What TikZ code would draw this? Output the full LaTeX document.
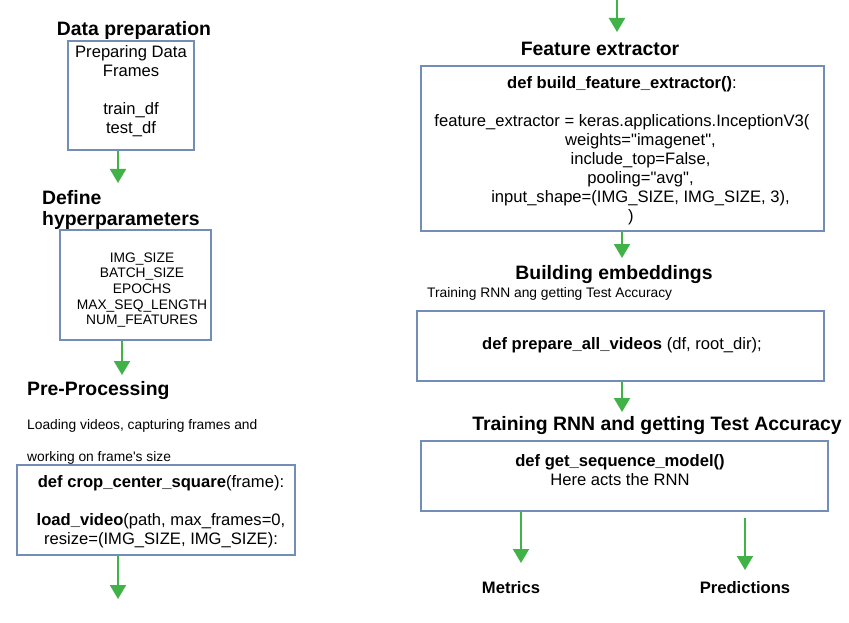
\documentclass[tikz,border=0pt]{standalone}
\usepackage{fontspec}
\setmainfont{Liberation Sans}
\usetikzlibrary{arrows.meta,positioning}
\definecolor{boxblue}{RGB}{114,142,182}
\definecolor{flowgreen}{RGB}{64,178,72}
\tikzset{
	stagebox/.style={draw=boxblue, line width=1.2pt, inner sep=0pt},
	codetext/.style={align=center, inner sep=0pt, font=\fontsize{16.6}{19}\selectfont},
	listtext/.style={align=center, inner sep=0pt, font=\fontsize{13.8}{15.6}\selectfont},
	smalltext/.style={align=left, inner sep=0pt, font=\fontsize{13.8}{32}\selectfont},
	headline/.style={inner sep=0pt, font=\fontsize{19.4}{21}\selectfont\bfseries},
	endlabel/.style={inner sep=0pt, font=\fontsize{16.6}{19}\selectfont\bfseries},
	flow/.style={draw=flowgreen, line width=2pt, -{Triangle[width=16pt,length=14pt]}}
}

\begin{document}
\begin{tikzpicture}[x=1pt, y=-1pt]
			%%%%% START %%%%%
			\useasboundingbox (0, 0) rectangle (849, 623);
			
			% left column
			\node[headline] (prephead) at (134, 30.5) {Data preparation};
			\node[stagebox, minimum width=126pt, minimum height=109pt] (prep) at (131, 95.5) {};
			\node[codetext] (preptext) at (131, 91) {Preparing Data\\Frames\\[19pt]train\_df\\test\_df};
			
			\node[headline, align=left, anchor=west] (hyperhead) at (42, 210) {Define\\hyperparameters};
			\node[stagebox, minimum width=151pt, minimum height=110pt] (hyper) at (135.5, 285) {};
			\node[listtext] (hypertext) at (142, 290) {IMG\_SIZE\\BATCH\_SIZE\\EPOCHS\\MAX\_SEQ\_LENGTH\\NUM\_FEATURES};
			
			\node[headline, anchor=west] (prochead) at (27, 390.5) {Pre-Processing};
			\node[smalltext, anchor=west] (procnote) at (27, 442) {Loading videos, capturing frames and\\working on frame\textquotesingle s size};
			\node[stagebox, minimum width=278pt, minimum height=90pt] (crop) at (156, 510) {};
			\node[codetext] (croptext) at (161, 511.5) {\textbf{def crop\_center\_square}(frame):\\[19pt]\textbf{load\_video}(path, max\_frames=0,\\resize=(IMG\_SIZE, IMG\_SIZE):};
			
			\coordinate (t1) at (118, 183);
			\coordinate (t2) at (122, 375);
			\coordinate (t3) at (118, 599);
			\draw[flow] (prep.south -| t1) -- (t1);
			\draw[flow] (hyper.south -| t2) -- (t2);
			\draw[flow] (crop.south -| t3) -- (t3);
			
			% right column
			\coordinate (s4) at (617, 0);
			\coordinate (t4) at (617, 32);
			\draw[flow] (s4) -- (t4);
			
			\node[headline] (feathead) at (600, 49) {Feature extractor};
			\node[stagebox, minimum width=403pt, minimum height=165pt] (feat) at (622.5, 148.5) {};
			\node[codetext] (feattext) at (622, 150.5) {\textbf{def build\_feature\_extractor()}:\\[19pt]feature\_extractor = keras.applications.InceptionV3(\\\hspace*{37pt}weights=\textquotedbl imagenet\textquotedbl,\\\hspace*{37pt}include\_top=False,\\\hspace*{37pt}pooling=\textquotedbl avg\textquotedbl,\\\hspace*{37pt}input\_shape=(IMG\_SIZE, IMG\_SIZE, 3),\\\hspace*{18pt})};
			
			\node[headline] (embhead) at (614, 274.5) {Building embeddings};
			\node[smalltext, anchor=west] (embnote) at (427, 294) {Training RNN ang getting Test Accuracy};
			\node[stagebox, minimum width=407pt, minimum height=70pt] (embed) at (620.5, 346) {};
			\node[codetext] (embedtext) at (622, 345) {\textbf{def prepare\_all\_videos} (df, root\_dir);};
			
			\node[headline] (rnnhead) at (657, 425.5) {Training RNN and getting Test Accuracy};
			\node[stagebox, minimum width=407pt, minimum height=70pt] (seq) at (624.5, 476) {};
			\node[codetext] (seqtext) at (620, 470.5) {\textbf{def get\_sequence\_model()}\\Here acts the RNN};
			
			\node[endlabel] (metrics) at (511, 587.5) {Metrics};
			\node[endlabel] (preds) at (745, 587.5) {Predictions};
			
			\coordinate (t5) at (622, 258);
			\coordinate (t6) at (622, 412);
			\coordinate (t7) at (521, 563);
			\coordinate (s8) at (745, 518);
			\coordinate (t8) at (745, 570);
			\draw[flow] (feat.south -| t5) -- (t5);
			\draw[flow] (embed.south -| t6) -- (t6);
			\draw[flow] (seq.south -| t7) -- (t7);
			\draw[flow] (s8) -- (t8);
			
			%%%%% END %%%%%
\end{tikzpicture}
\end{document}
